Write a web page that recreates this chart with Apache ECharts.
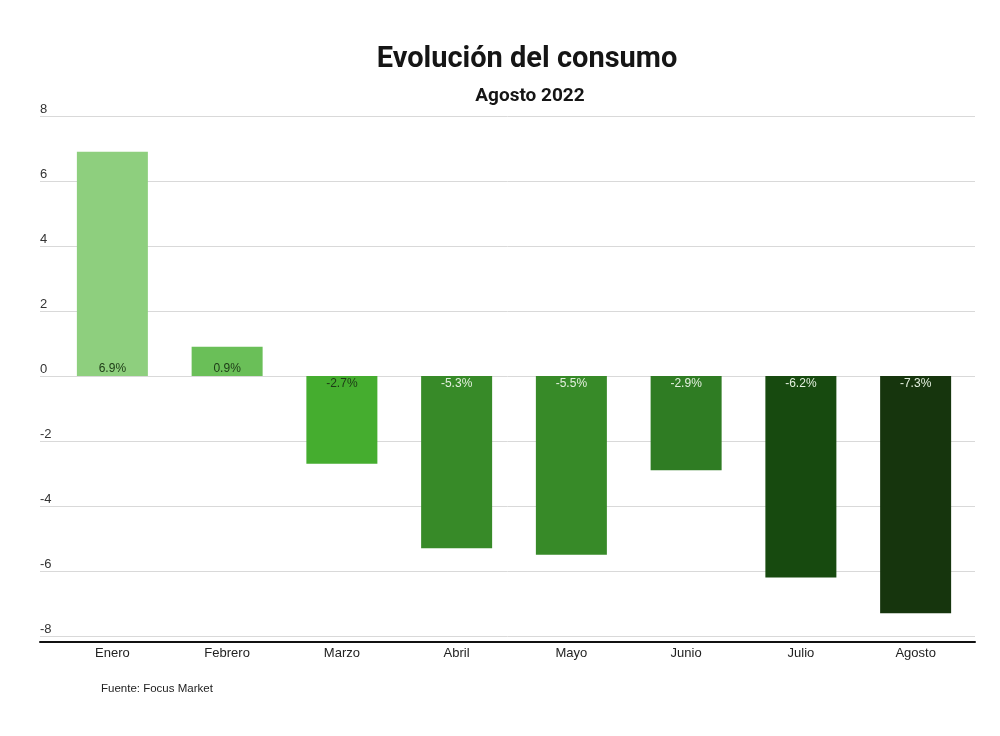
<!DOCTYPE html>
<html>
<head>
<meta charset="utf-8">
<script src="https://cdn.jsdelivr.net/npm/echarts@6/dist/echarts.min.js"></script>
<style>
  html, body { margin: 0; padding: 0; background: #fff; }
  #chart { width: 1000px; height: 736px; }
</style>
</head>
<body>
<div id="chart"></div>
<script>
// datos del gráfico
var months = ['Enero', 'Febrero', 'Marzo', 'Abril', 'Mayo', 'Junio', 'Julio', 'Agosto'];
var consumo = [6.9, 0.9, -2.7, -5.3, -5.5, -2.9, -6.2, -7.3];
var yTicks = [-8, -6, -4, -2, 0, 2, 4, 6, 8];

// colores por barra
var barColors = ['#8ecf7e', '#6abf58', '#45ad2f', '#378a28', '#378a28', '#2f7c23', '#174a0f', '#16350d'];
var labelColors = ['#1d3a16', '#1d3a16', '#1d3a16', '#e4f0df', '#e4f0df', '#e4f0df', '#e4f0df', '#e4f0df'];

var chart = echarts.init(document.getElementById('chart'));

var option = {
  backgroundColor: '#fff',
  animation: false,
  title: [
    {
      text: 'Evolución del consumo',
      left: 527, top: 45, textAlign: 'center', padding: 0,
      textStyle: { fontFamily: 'Roboto', fontWeight: 'bold', fontSize: 29, color: '#151515' }
    },
    {
      text: 'Agosto 2022',
      left: 530, top: 87, textAlign: 'center', padding: 0,
      textStyle: { fontFamily: 'Roboto', fontWeight: 'bold', fontSize: 19, color: '#151515' }
    },
    {
      text: 'Fuente: Focus Market',
      left: 101, top: 683, padding: 0,
      textStyle: { fontFamily: 'Liberation Sans', fontWeight: 'normal', fontSize: 11.5, color: '#222' }
    }
  ],
  grid: [
    { left: 40, right: 25, top: 116, height: 520 },   // fondo: rejilla y eje
    { left: 55, right: 27, top: 116, height: 520 }    // barras
  ],
  xAxis: [
    {
      gridIndex: 0, type: 'category', data: months,
      offset: 6,
      axisLine: { show: true, onZero: false, lineStyle: { color: '#111', width: 2 } },
      axisTick: { show: false },
      axisLabel: { show: false },
      splitLine: { show: false }
    },
    {
      gridIndex: 1, type: 'category', data: months,
      axisLine: { show: false, onZero: false },
      axisTick: { show: false },
      axisLabel: { margin: 11, fontFamily: 'Liberation Sans', fontSize: 13, color: '#222' }
    }
  ],
  yAxis: [
    {
      gridIndex: 0, type: 'value', min: yTicks[0], max: yTicks[yTicks.length - 1], interval: 2,
      axisLine: { show: false },
      axisTick: { show: false },
      axisLabel: {
        inside: true, margin: 0, verticalAlign: 'bottom', lineHeight: 13,
        fontFamily: 'Liberation Sans', fontSize: 13, color: '#333'
      },
      splitLine: { show: true, lineStyle: { color: '#d9d9d9', width: 1 } }
    },
    {
      gridIndex: 1, type: 'value', min: yTicks[0], max: yTicks[yTicks.length - 1], interval: 2,
      axisLine: { show: false }, axisTick: { show: false },
      axisLabel: { show: false }, splitLine: { show: false }
    }
  ],
  series: [
    {
      type: 'bar',
      xAxisIndex: 1, yAxisIndex: 1,
      barWidth: 71,
      data: consumo.map(function (v, i) {
        return {
          value: v,
          itemStyle: { color: barColors[i] },
          label: {
            position: v >= 0 ? 'insideBottom' : 'insideTop',
            distance: v >= 0 ? 1 : 2,
            color: labelColors[i]
          }
        };
      }),
      label: {
        show: true,
        fontFamily: 'Liberation Sans', fontSize: 12,
        formatter: function (p) { return p.value.toFixed(1) + '%'; }
      }
    }
  ]
};

chart.setOption(option);
</script>
</body>
</html>
